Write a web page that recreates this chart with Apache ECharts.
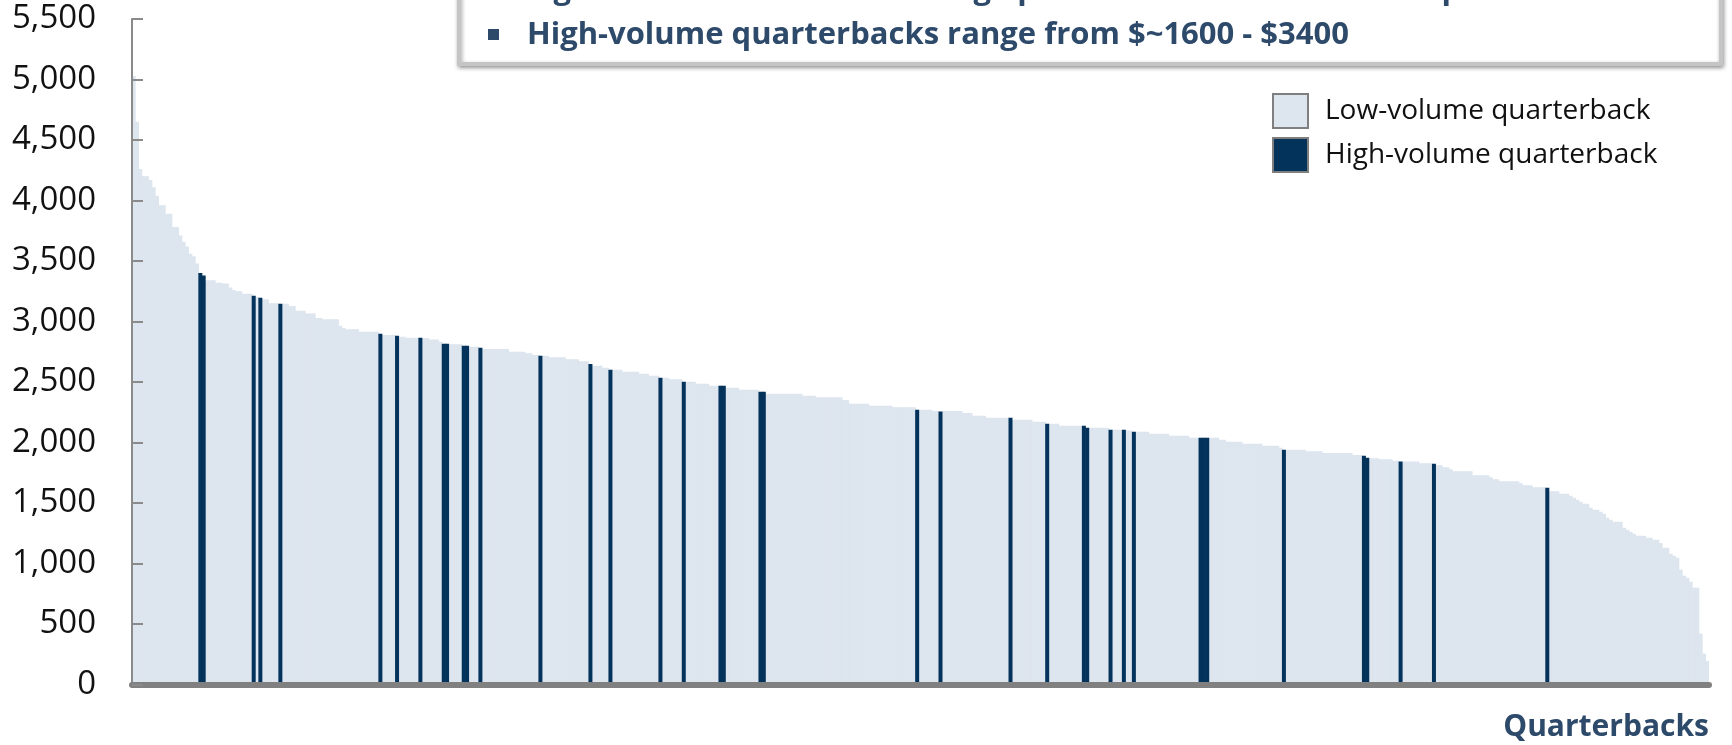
<!DOCTYPE html>
<html>
<head>
<meta charset="utf-8">
<script src="https://cdn.jsdelivr.net/npm/echarts@6/dist/echarts.min.js"></script>
<style>
  html, body { margin: 0; padding: 0; background: #fff; }
  #chart { width: 1732px; height: 745px; }
</style>
</head>
<body>
<div id="chart"></div>
<script>
// payment per quarterback, sorted high -> low
const payments = [
  5030, 4650, 4260, 4200, 4200, 4170, 4110, 4040, 3960, 3960,
  3890, 3890, 3780, 3780, 3710, 3660, 3620, 3560, 3540, 3480,
  3400, 3380, 3340, 3340, 3340, 3320, 3320, 3315, 3315, 3280,
  3260, 3250, 3250, 3230, 3230, 3230, 3213, 3202, 3197, 3183,
  3183, 3150, 3150, 3150, 3147, 3147, 3147, 3128, 3128, 3089,
  3089, 3089, 3067, 3067, 3067, 3029, 3029, 3018, 3018, 3018,
  3018, 3018, 2965, 2946, 2935, 2935, 2935, 2935, 2916, 2916,
  2916, 2916, 2916, 2916, 2899, 2888, 2888, 2888, 2888, 2883,
  2874, 2874, 2866, 2866, 2866, 2866, 2866, 2863, 2863, 2852,
  2852, 2852, 2833, 2816, 2816, 2811, 2811, 2811, 2811, 2800,
  2800, 2792, 2792, 2792, 2783, 2773, 2773, 2773, 2773, 2773,
  2773, 2773, 2773, 2750, 2750, 2750, 2750, 2750, 2737, 2737,
  2723, 2723, 2717, 2717, 2717, 2704, 2704, 2704, 2704, 2704,
  2687, 2687, 2687, 2687, 2671, 2671, 2671, 2649, 2635, 2635,
  2635, 2618, 2618, 2602, 2602, 2602, 2602, 2585, 2585, 2585,
  2585, 2585, 2569, 2569, 2569, 2552, 2552, 2552, 2536, 2536,
  2536, 2522, 2522, 2522, 2522, 2503, 2503, 2503, 2503, 2486,
  2486, 2486, 2486, 2469, 2469, 2469, 2469, 2469, 2453, 2453,
  2453, 2453, 2436, 2436, 2436, 2436, 2436, 2436, 2420, 2420,
  2403, 2403, 2403, 2403, 2403, 2403, 2403, 2403, 2403, 2403,
  2403, 2387, 2387, 2387, 2387, 2373, 2373, 2373, 2373, 2373,
  2373, 2373, 2373, 2351, 2351, 2321, 2321, 2321, 2321, 2321,
  2321, 2304, 2304, 2304, 2304, 2304, 2304, 2304, 2291, 2291,
  2291, 2291, 2291, 2291, 2291, 2271, 2271, 2271, 2271, 2271,
  2260, 2260, 2257, 2260, 2260, 2260, 2260, 2260, 2260, 2244,
  2244, 2244, 2221, 2221, 2221, 2221, 2205, 2205, 2205, 2205,
  2205, 2205, 2205, 2205, 2188, 2188, 2188, 2188, 2188, 2188,
  2172, 2172, 2172, 2172, 2155, 2155, 2155, 2155, 2139, 2139,
  2139, 2139, 2139, 2139, 2139, 2139, 2122, 2122, 2122, 2122,
  2122, 2122, 2122, 2106, 2106, 2106, 2106, 2106, 2100, 2100,
  2089, 2089, 2089, 2089, 2089, 2073, 2073, 2073, 2073, 2073,
  2073, 2056, 2056, 2056, 2056, 2056, 2056, 2040, 2040, 2040,
  2040, 2040, 2040, 2040, 2040, 2040, 2023, 2023, 2007, 2007,
  2007, 2007, 2007, 1990, 1990, 1990, 1990, 1990, 1990, 1973,
  1973, 1973, 1973, 1973, 1957, 1940, 1940, 1940, 1940, 1940,
  1940, 1940, 1927, 1927, 1927, 1927, 1927, 1913, 1913, 1913,
  1913, 1913, 1913, 1913, 1913, 1913, 1897, 1897, 1897, 1891,
  1874, 1869, 1869, 1869, 1861, 1861, 1861, 1861, 1850, 1850,
  1844, 1844, 1844, 1844, 1844, 1844, 1828, 1828, 1828, 1828,
  1825, 1811, 1811, 1795, 1795, 1778, 1762, 1762, 1762, 1762,
  1762, 1762, 1729, 1729, 1729, 1729, 1729, 1712, 1696, 1696,
  1679, 1679, 1679, 1679, 1679, 1679, 1663, 1646, 1646, 1646,
  1630, 1630, 1630, 1630, 1626, 1597, 1597, 1597, 1577, 1577,
  1577, 1560, 1544, 1527, 1511, 1494, 1494, 1461, 1445, 1445,
  1428, 1412, 1378, 1362, 1345, 1345, 1345, 1296, 1279, 1263,
  1246, 1229, 1229, 1229, 1213, 1213, 1197, 1197, 1169, 1131,
  1131, 1081, 1064, 1048, 949, 899, 883, 850, 800, 800,
  420, 255, 194
];

// positions (0-based) of the high-volume quarterbacks in the list above
const highVolumeIdx = [
  20, 21, 36, 38, 44, 74, 79, 86, 93, 94, 99, 100, 104, 122, 137, 143,
  158, 165, 176, 177, 188, 189, 235, 242, 263, 274, 285, 286, 293, 297,
  300, 320, 321, 322, 345, 369, 370, 380, 390, 424
];

const seriesNames = ['Low-volume quarterback', 'High-volume quarterback'];
const bulletText = 'High-volume quarterbacks range from $~1600 - $3400';
const cutOffText = 'Significant variation in average price with outliers at the top end';
const xName = 'Quarterbacks';

const lightColor = '#dde5ef';
const darkColor = '#03325b';
const textBlue = '#2e4a6b';
const font = 'Open Sans';

const categories = payments.map((v, i) => i + 1);
const isHigh = new Set(highVolumeIdx);
const lowData = payments.map((v, i) => (isHigh.has(i) ? '-' : v));
const highData = payments.map((v, i) => (isHigh.has(i) ? v : '-'));

const chart = echarts.init(document.getElementById('chart'), null, { renderer: 'canvas' });

// bars a bit wider than the band so neighbours overlap and no hairline seams show
const barW = 4;

chart.setOption({
  animation: false,
  backgroundColor: '#fff',
  grid: { left: 132, right: 23, top: 19, bottom: 60.5 },
  xAxis: {
    type: 'category',
    data: categories,
    z: 10,
    axisLine: { show: true, lineStyle: { color: '#808080', width: 6 } },
    axisTick: { show: false },
    axisLabel: { show: false },
    splitLine: { show: false }
  },
  yAxis: {
    type: 'value',
    min: 0,
    max: 5500,
    interval: 500,
    z: 10,
    axisLine: { show: true, lineStyle: { color: '#8a8a8a', width: 2 } },
    axisTick: { show: true, inside: true, length: 11, lineStyle: { color: '#8a8a8a', width: 2 } },
    axisLabel: {
      margin: 36,
      fontSize: 33,
      color: '#111',
      fontFamily: font,
      formatter: v => v.toLocaleString('en-US')
    },
    splitLine: { show: false }
  },
  legend: {
    orient: 'vertical',
    left: 1267,
    top: 88,
    itemWidth: 35,
    itemHeight: 34,
    itemGap: 8,
    icon: 'rect',
    selectedMode: false,
    itemStyle: { borderColor: '#7f7f7f', borderWidth: 2 },
    textStyle: { fontSize: 28, lineHeight: 34, color: '#111', fontFamily: font, padding: [0, 0, 0, 12] },
    data: seriesNames
  },
  series: [
    {
      name: seriesNames[0],
      type: 'bar',
      data: lowData,
      barWidth: barW,
      barGap: '-100%',
      itemStyle: { color: lightColor },
      emphasis: { disabled: true }
    },
    {
      name: seriesNames[1],
      type: 'bar',
      data: highData,
      barWidth: barW,
      barGap: '-100%',
      itemStyle: { color: darkColor },
      emphasis: { disabled: true }
    }
  ],
  graphic: [
    {
      type: 'rect',
      z: 20,
      shape: { x: 459, y: -60, width: 1262, height: 124 },
      style: {
        fill: '#fff',
        stroke: '#c5c5c5',
        lineWidth: 4,
        shadowBlur: 4,
        shadowOffsetX: 1,
        shadowOffsetY: 2,
        shadowColor: 'rgba(0,0,0,0.35)'
      }
    },
    {
      type: 'text',
      z: 21,
      x: 527,
      y: -10,
      style: {
        text: cutOffText,
        fill: textBlue,
        font: 'bold 31px "Open Sans"',
        verticalAlign: 'middle'
      }
    },
    {
      type: 'rect',
      z: 21,
      shape: { x: 488, y: 29, width: 11, height: 11 },
      style: { fill: textBlue }
    },
    {
      type: 'text',
      z: 21,
      x: 527,
      y: 35,
      style: {
        text: bulletText,
        fill: textBlue,
        font: 'bold 31px "Open Sans"',
        verticalAlign: 'middle'
      }
    },
    {
      type: 'text',
      z: 21,
      x: 1709,
      y: 727,
      style: {
        text: xName,
        fill: textBlue,
        font: 'bold 30px "Open Sans"',
        align: 'right',
        verticalAlign: 'middle'
      }
    }
  ]
});
</script>
</body>
</html>
